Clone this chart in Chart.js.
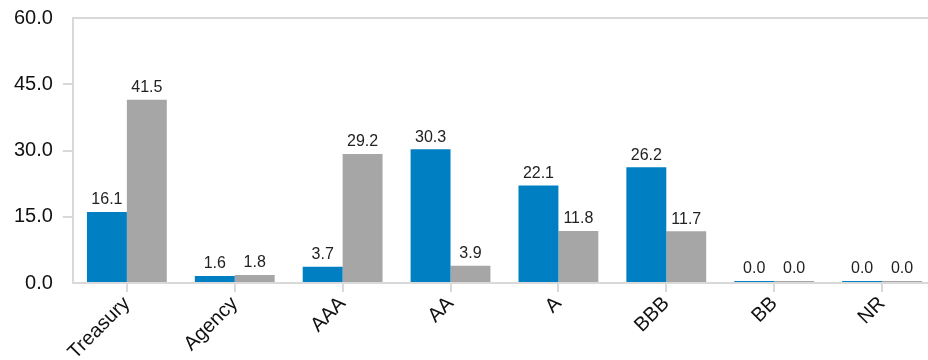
<!DOCTYPE html>
<html>
<head>
<meta charset="utf-8">
<script src="https://cdn.jsdelivr.net/npm/chart.js@4/dist/chart.umd.min.js"></script>
<style>
  html, body { margin: 0; padding: 0; background: #fff; overflow: hidden; }
  #wrap { width: 936px; height: 360px; }
</style>
</head>
<body>
<div id="wrap"><canvas id="myChart" width="936" height="360"></canvas></div>
<script>
const categories = ["Treasury", "Agency", "AAA", "AA", "A", "BBB", "BB", "NR"];
const seriesBlue = [16.1, 1.6, 3.7, 30.3, 22.1, 26.2, 0.0, 0.0];
const seriesGray = [41.5, 1.8, 29.2, 3.9, 11.8, 11.7, 0.0, 0.0];
const yTicks = [0, 15, 30, 45, 60];

const axisGray = '#d9d9d9';

// draws the value above each bar
const barValuePlugin = {
  id: 'barValues',
  afterDatasetsDraw(chart) {
    const ctx = chart.ctx;
    ctx.save();
    ctx.font = '16px "Liberation Sans", Arial, sans-serif';
    ctx.fillStyle = '#222';
    ctx.textAlign = 'center';
    ctx.textBaseline = 'bottom';
    chart.data.datasets.forEach(function(ds, i) {
      chart.getDatasetMeta(i).data.forEach(function(bar, j) {
        ctx.fillText(ds.data[j].toFixed(1), bar.x, bar.y - 4);
      });
    });
    ctx.restore();
  }
};

new Chart("myChart", {
  type: "bar",
  data: {
    labels: categories,
    datasets: [{
      data: seriesBlue,
      backgroundColor: "#0080c2",
      minBarLength: 2
    },{
      data: seriesGray,
      backgroundColor: "#a6a6a6",
      minBarLength: 2
    }]
  },
  plugins: [barValuePlugin],
  options: {
    responsive: false,
    animation: false,
    categoryPercentage: 0.74,
    barPercentage: 1.0,
    layout: {
      padding: { top: 0, left: 4, right: 0, bottom: 0 }
    },
    plugins: {
      legend: { display: false },
      tooltip: { enabled: false }
    },
    scales: {
      x: {
        // rotated labels run off the bottom edge a little
        afterFit: function(scale) { scale.height = 77; },
        grid: {
          offset: false,
          drawOnChartArea: false,
          tickLength: 9,
          tickColor: axisGray,
          lineWidth: 2
        },
        border: { color: axisGray, width: 2 },
        ticks: {
          color: '#111',
          font: { family: '"Liberation Sans", Arial, sans-serif', size: 20 },
          minRotation: 45,
          maxRotation: 45,
          padding: 0
        }
      },
      y: {
        min: 0,
        max: 60,
        afterBuildTicks: function(axis) {
          axis.ticks = yTicks.map(function(v) { return { value: v }; });
        },
        grid: {
          color: function(c) { return c.tick && c.tick.value === 60 ? axisGray : 'rgba(0,0,0,0)'; },
          tickColor: function(c) { return (c.tick && (c.tick.value === 0 || c.tick.value === 60)) ? 'rgba(0,0,0,0)' : axisGray; },
          lineWidth: 2,
          tickLength: 10
        },
        border: { color: axisGray, width: 2 },
        ticks: {
          color: '#111',
          padding: 10,
          font: { family: '"Liberation Sans", Arial, sans-serif', size: 20, lineHeight: 0.8 },
          callback: function(value) { return Number(value).toFixed(1); }
        }
      }
    }
  }
});
</script>
</body>
</html>
